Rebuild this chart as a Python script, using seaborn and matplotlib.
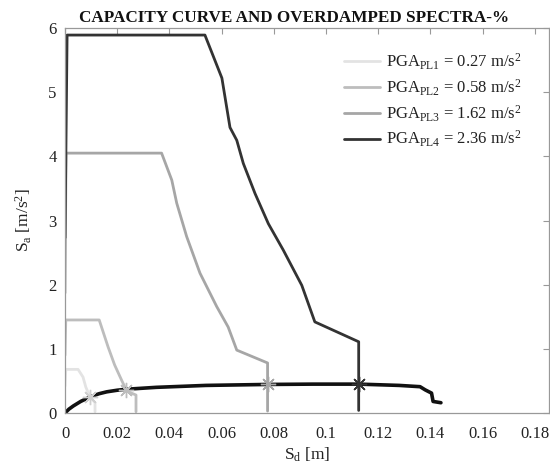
import numpy as np
import pandas as pd
import matplotlib
matplotlib.use("Agg")
import matplotlib.pyplot as plt
import seaborn as sns

# Overdamped spectra (Sd [m], Sa [m/s^2]) for the four performance levels
sd_pl1 = [0.0, 0.0003, 0.0050, 0.0069, 0.0080, 0.0096, 0.0115, 0.0115]
sa_pl1 = [0.42, 0.68, 0.68, 0.56, 0.40, 0.25, 0.16, 0.02]

sd_pl2 = [0.0, 0.0003, 0.0131, 0.0165, 0.0190, 0.0217, 0.0237, 0.0272, 0.0272]
sa_pl2 = [0.90, 1.45, 1.45, 1.03, 0.75, 0.51, 0.34, 0.28, 0.02]

sd_pl3 = [0.0, 0.0004, 0.0370, 0.0409, 0.0428, 0.0466, 0.0517, 0.0581, 0.0625,
          0.0658, 0.0776, 0.0776]
sa_pl3 = [1.87, 4.05, 4.05, 3.63, 3.27, 2.75, 2.18, 1.66, 1.34,
          0.98, 0.78, 0.03]

sd_pl4 = [0.0, 0.0008, 0.0536, 0.0601, 0.0632, 0.0658, 0.0683, 0.0728, 0.0779,
          0.0836, 0.0907, 0.0957, 0.1125, 0.1125]
sa_pl4 = [2.73, 5.89, 5.89, 5.22, 4.45, 4.25, 3.89, 3.42, 2.95,
          2.54, 1.99, 1.42, 1.11, 0.04]

# Capacity curve
sd_cap = [0.0, 0.0015, 0.0032, 0.0060, 0.0096, 0.0130, 0.0160, 0.0200, 0.0234,
          0.0350, 0.0540, 0.0776, 0.0950, 0.1125, 0.1280, 0.1360, 0.1380,
          0.1404, 0.1410, 0.1440]
sa_cap = [0.0, 0.06, 0.11, 0.18, 0.25, 0.30, 0.33, 0.355, 0.37,
          0.40, 0.43, 0.445, 0.45, 0.45, 0.43, 0.41, 0.36,
          0.31, 0.18, 0.16]

# Performance points (intersection of capacity curve and each spectrum)
pp_sd = [0.0096, 0.0234, 0.0776, 0.1125]
pp_sa = [0.25, 0.365, 0.445, 0.45]

labels = [r"PGA$_{\rm PL1}$ = 0.27 m/s$^{2}$",
          r"PGA$_{\rm PL2}$ = 0.58 m/s$^{2}$",
          r"PGA$_{\rm PL3}$ = 1.62 m/s$^{2}$",
          r"PGA$_{\rm PL4}$ = 2.36 m/s$^{2}$"]
colors = ["#e3e3e3", "#bdbdbd", "#a6a6a6", "#333333"]

sns.set_theme(style="white")
plt.rcParams["font.family"] = ["Liberation Serif", "DejaVu Serif"]
plt.rcParams["mathtext.fontset"] = "custom"
plt.rcParams["mathtext.rm"] = "Liberation Serif"
plt.rcParams["mathtext.it"] = "Liberation Serif:italic"
plt.rcParams["mathtext.bf"] = "Liberation Serif:bold"

fig = plt.figure(figsize=(5.5, 4.68), dpi=100)
ax = fig.add_axes([65 / 550, 55 / 468, 484 / 550, 385 / 468])

spectra = [(sd_pl1, sa_pl1), (sd_pl2, sa_pl2), (sd_pl3, sa_pl3), (sd_pl4, sa_pl4)]
for (sd, sa), lab, col in zip(spectra, labels, colors):
    df = pd.DataFrame({"Sd": sd, "Sa": sa})
    sns.lineplot(data=df, x="Sd", y="Sa", sort=False, estimator=None,
                 color=col, linewidth=2.0, label=lab, ax=ax)

cap = pd.DataFrame({"Sd": sd_cap, "Sa": sa_cap})
sns.lineplot(data=cap, x="Sd", y="Sa", sort=False, estimator=None,
             color="#111111", linewidth=2.6, ax=ax, legend=False)

for x, y, col in zip(pp_sd, pp_sa, colors):
    ax.plot([x], [y], marker=(8, 2, 0), markersize=11, markeredgewidth=1.0,
            color=col if col != "#e3e3e3" else "#cfcfcf", linestyle="none")

ax.set_xlim(0, 0.1854)
ax.set_ylim(0, 6)
ax.set_xticks([0, 0.02, 0.04, 0.06, 0.08, 0.1, 0.12, 0.14, 0.16, 0.18])
ax.set_xticklabels(["0", "0.02", "0.04", "0.06", "0.08", "0.1", "0.12",
                    "0.14", "0.16", "0.18"])
ax.set_yticks([0, 1, 2, 3, 4, 5, 6])
ax.tick_params(axis="both", direction="in", length=4, width=0.8,
               colors="#999999", labelcolor="#222222", labelsize=12,
               top=True, right=True)
ax.tick_params(axis="x", pad=9)
ax.tick_params(axis="y", pad=6)
for sp in ax.spines.values():
    sp.set_color("#999999")
    sp.set_linewidth(0.9)

ax.set_xlabel(r"S$_{\rm d}$ [m]", fontsize=12.5, color="#222222", labelpad=3)
ax.set_ylabel(r"S$_{\rm a}$ [m/s$^{2}$]", fontsize=12.5, color="#222222", labelpad=10)
ax.set_title("CAPACITY CURVE AND OVERDAMPED SPECTRA-%", fontsize=12.3,
             fontweight="bold", color="#111111", pad=4, x=0.473)

leg = ax.legend(loc="upper right", bbox_to_anchor=(0.957, 0.956), frameon=False,
                fontsize=12, handlelength=2.2, handletextpad=0.35,
                labelspacing=0.33, borderaxespad=0.0)
for t in leg.get_texts():
    t.set_color("#222222")

fig.savefig("out.png", dpi=100)
